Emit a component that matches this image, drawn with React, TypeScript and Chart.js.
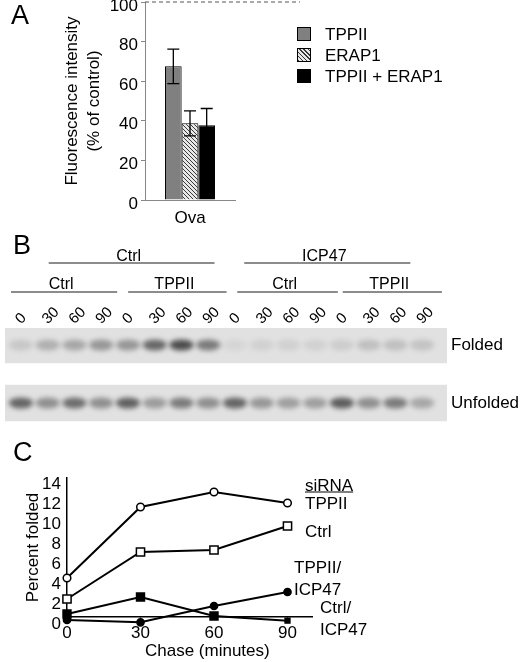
import { useEffect, useRef } from 'react';
import { Chart, registerables } from 'chart.js';

Chart.register(...registerables);

const FONT = "'Liberation Sans', Arial, Helvetica, sans-serif";
Chart.defaults.font.family = FONT;
Chart.defaults.color = '#000';

// ---- A: fluorescence (% of control)
const knockdowns = ['TPPII', 'ERAP1', 'TPPII + ERAP1'];
const antigens = ['Ova'];
const intensity = [67.5, 38.7, 37.8];
const intensityErr = [8.7, 6.3, 8.4];
const controlLevel = 100;

// ---- B: gel
const gelLaneRange = [0.406, 16.93];
const laneTimes = ['0', '30', '60', '90', '0', '30', '60', '90', '0', '30', '60', '90', '0', '30', '60', '90'];
const gelRows = ['Folded', 'Unfolded'];
const foldedBands = [0.15, 0.3, 0.35, 0.45, 0.45, 0.74, 0.9, 0.62, 0.07, 0.1, 0.1, 0.09, 0.12, 0.2, 0.2, 0.18];
const unfoldedBands = [0.75, 0.5, 0.7, 0.5, 0.78, 0.42, 0.62, 0.5, 0.75, 0.45, 0.4, 0.4, 0.8, 0.5, 0.62, 0.35];
const icpLabels = ['Ctrl', 'ICP47'];
const icpSpans = [[2.04, 8.24], [9.35, 15.56]];
const sirnaLabels = ['Ctrl', 'TPPII', 'Ctrl', 'TPPII'];
const sirnaSpans = [[0.63, 4.6], [5.01, 8.69], [9.09, 12.85], [13.03, 16.74]];

// ---- C: percent folded over chase
const chaseMinutes = [0, 30, 60, 90];
const foldedTicks = [0, 2, 4, 6, 8, 10, 12, 14];
const seriesNames = ['TPPII', 'Ctrl', 'TPPII/ICP47', 'Ctrl/ICP47'];
const foldedTPPII = [4.6, 11.7, 13.2, 12.1];
const foldedCtrl = [2.5, 7.2, 7.4, 9.8];
const foldedTPPIIICP47 = [0.4, 0.17, 1.8, 3.2];
const foldedCtrlICP47 = [1.0, 2.7, 0.8, 0.33];

function hatch() {
  const c = document.createElement('canvas');
  c.width = 4;
  c.height = 4;
  const g = c.getContext('2d')!;
  g.fillStyle = '#e8e8e8';
  g.fillRect(0, 0, 4, 4);
  g.strokeStyle = '#3a3a3a';
  g.lineWidth = 1;
  g.beginPath();
  g.moveTo(0, 0); g.lineTo(4, 4);
  g.moveTo(-2, 2); g.lineTo(2, 6);
  g.moveTo(2, -2); g.lineTo(6, 2);
  g.stroke();
  return g.createPattern(c, 'repeat');
}

function band(v: number) {
  const c = document.createElement('canvas');
  c.width = 48;
  c.height = 30;
  const g = c.getContext('2d')!;
  g.filter = 'blur(2.5px)';
  g.fillStyle = `rgba(30,30,30,${v * 0.85})`;
  g.beginPath();
  g.ellipse(24, 15, 12, 5.5, 0, 0, Math.PI * 2);
  g.fill();
  return c;
}

const errorBars = {
  id: 'errorBars',
  afterDatasetsDraw(chart: any) {
    const { ctx } = chart;
    const y = chart.scales.y;
    ctx.save();
    ctx.strokeStyle = '#000';
    ctx.lineWidth = 1.3;
    chart.data.datasets.forEach((ds: any, i: number) => {
      chart.getDatasetMeta(i).data.forEach((bar: any, j: number) => {
        const top = y.getPixelForValue(ds.data[j] + intensityErr[i]);
        const bot = y.getPixelForValue(ds.data[j] - intensityErr[i]);
        ctx.beginPath();
        ctx.moveTo(bar.x, top); ctx.lineTo(bar.x, bot);
        ctx.moveTo(bar.x - 6, top); ctx.lineTo(bar.x + 6, top);
        ctx.moveTo(bar.x - 6, bot); ctx.lineTo(bar.x + 6, bot);
        ctx.stroke();
      });
    });
    ctx.restore();
  },
};

const controlLine = {
  id: 'controlLine',
  afterDraw(chart: any) {
    const { ctx, chartArea } = chart;
    const y = chart.scales.y.getPixelForValue(controlLevel);
    ctx.save();
    ctx.strokeStyle = '#555';
    ctx.lineWidth = 1;
    ctx.setLineDash([4, 3]);
    ctx.beginPath();
    ctx.moveTo(chartArea.left, y);
    ctx.lineTo(chart.width, y);
    ctx.stroke();
    ctx.restore();
  },
};

const groupLines = {
  id: 'groupLines',
  afterDraw(chart: any) {
    const { ctx } = chart;
    const x = chart.scales.x;
    ctx.save();
    ctx.strokeStyle = '#666';
    ctx.lineWidth = 1.5;
    ctx.fillStyle = '#000';
    ctx.font = `16px ${FONT}`;
    ctx.textAlign = 'center';
    ctx.textBaseline = 'middle';
    const rows: [string[], number[][], number, number][] = [
      [icpLabels, icpSpans, 17, 23],
      [sirnaLabels, sirnaSpans, 45, 52],
    ];
    rows.forEach(([labels, spans, ty, ly]) => {
      spans.forEach(([a, b], i) => {
        const x1 = x.getPixelForValue(a);
        const x2 = x.getPixelForValue(b);
        ctx.beginPath();
        ctx.moveTo(x1, ly);
        ctx.lineTo(x2, ly);
        ctx.stroke();
        ctx.fillText(labels[i], (x1 + x2) / 2 - 3, ty);
      });
    });
    ctx.restore();
  },
};

function ChartBox({ left, top, width, height, make }: any) {
  const ref = useRef<HTMLCanvasElement>(null);
  useEffect(() => {
    if (!ref.current) return;
    const chart = new Chart(ref.current, make());
    return () => chart.destroy();
  }, []);
  return (
    <div style={{ position: 'absolute', left, top, width, height }}>
      <canvas ref={ref}></canvas>
    </div>
  );
}

function Txt({ x, y, size = 17, children, style }: any) {
  return (
    <div
      style={{
        position: 'absolute', left: x, top: y, transform: 'translateY(-50%)',
        fontSize: size, lineHeight: 1, whiteSpace: 'nowrap', fontFamily: FONT, color: '#000', ...style,
      }}
    >
      {children}
    </div>
  );
}

function makeA(): any {
  const fills = ['#808080', hatch(), '#000'];
  return {
    type: 'bar',
    data: {
      labels: antigens,
      datasets: knockdowns.map((k, i) => ({
        label: k,
        data: [intensity[i]],
        backgroundColor: fills[i],
        borderColor: '#000',
        borderWidth: 1,
        categoryPercentage: 0.556,
        barPercentage: 1,
      })),
    },
    options: {
      animation: false,
      responsive: true,
      maintainAspectRatio: false,
      layout: { padding: { left: 0, right: 65, top: 12, bottom: 0 } },
      plugins: { legend: { display: false }, tooltip: { enabled: false } },
      scales: {
        x: {
          grid: { display: false, drawTicks: false, tickLength: 0 },
          border: { color: '#888', width: 1 },
          ticks: { font: { size: 17 }, padding: 8 },
          afterFit: (a: any) => { a.height = 30; a.paddingLeft = 0; a.paddingRight = 0; },
        },
        y: {
          min: 0, max: 100,
          ticks: { stepSize: 20, font: { size: 17 }, padding: 3, labelOffset: 4 },
          grid: { drawOnChartArea: false, tickLength: 4, color: '#888' },
          border: { color: '#888', width: 1 },
          title: {
            display: true,
            text: ['Fluorescence intensity', '(% of control)'],
            font: { size: 17, lineHeight: 1.3 },
            padding: { top: 61, bottom: 0 },
          },
          afterFit: (a: any) => { a.width = 145; a.paddingTop = 0; a.paddingBottom = 0; },
        },
      },
    },
    plugins: [controlLine, errorBars],
  };
}

function makeB(): any {
  return {
    type: 'bar',
    data: {
      datasets: [
        {
          type: 'bar',
          data: gelRows.map((_, r) => ({ y: 1 - r, x: [gelLaneRange[0], gelLaneRange[1]] })),
          backgroundColor: '#e1e1e1',
          borderWidth: 0,
          barPercentage: 0.63,
          categoryPercentage: 1,
          order: 2,
        },
        {
          type: 'scatter',
          data: foldedBands.map((_, i) => ({ x: i + 1, y: 1 })),
          pointStyle: foldedBands.map(band),
          order: 1,
        },
        {
          type: 'scatter',
          data: unfoldedBands.map((_, i) => ({ x: i + 1, y: 0 })),
          pointStyle: unfoldedBands.map(band),
          order: 1,
        },
      ],
    },
    options: {
      indexAxis: 'y',
      animation: false,
      responsive: true,
      maintainAspectRatio: false,
      layout: { padding: { left: 2, right: 0, top: 48, bottom: 17 } },
      plugins: { legend: { display: false }, tooltip: { enabled: false } },
      scales: {
        x: {
          type: 'linear',
          position: 'top',
          min: gelLaneRange[0],
          max: gelLaneRange[1],
          grid: { display: false, drawTicks: false, tickLength: 0 },
          border: { display: false },
          afterBuildTicks: (a: any) => { a.ticks = laneTimes.map((_, i) => ({ value: i + 1 })); },
          ticks: {
            callback: (_v: any, i: number) => laneTimes[i],
            minRotation: 45,
            maxRotation: 45,
            autoSkip: false,
            font: { size: 15 },
            padding: 0,
            labelOffset: 10,
          },
          afterFit: (a: any) => { a.height = 40; a.paddingLeft = 0; a.paddingRight = 0; },
        },
        y: {
          type: 'linear',
          position: 'right',
          offset: false,
          min: -0.345,
          max: 1.293,
          grid: { display: false, drawTicks: false, tickLength: 0 },
          border: { display: false },
          afterBuildTicks: (a: any) => { a.ticks = gelRows.map((_, r) => ({ value: 1 - r })); },
          ticks: {
            callback: (v: any) => gelRows[1 - Number(v)],
            font: { size: 17 },
            padding: 4,
          },
          afterFit: (a: any) => { a.width = 73; a.paddingTop = 0; a.paddingBottom = 0; },
        },
      },
    },
    plugins: [groupLines],
  };
}

function makeC(): any {
  const series = [foldedTPPII, foldedCtrl, foldedTPPIIICP47, foldedCtrlICP47];
  const styles = [
    { pointStyle: 'circle', pointRadius: 3.8, pointBackgroundColor: '#fff' },
    { pointStyle: 'rect', pointRadius: 5.8, pointBackgroundColor: '#fff' },
    { pointStyle: 'circle', pointRadius: 3.6, pointBackgroundColor: '#000' },
    { pointStyle: 'rect', pointRadius: [5.6, 5.6, 5.6, 3.4], pointBackgroundColor: '#000' },
  ];
  return {
    type: 'line',
    data: {
      datasets: series.map((s, i) => ({
        label: seriesNames[i],
        data: chaseMinutes.map((t, j) => ({ x: t, y: s[j] })),
        borderColor: '#000',
        borderWidth: 2,
        pointBorderColor: '#000',
        pointBorderWidth: 1.5,
        tension: 0,
        clip: false,
        ...styles[i],
      })),
    },
    options: {
      animation: false,
      responsive: true,
      maintainAspectRatio: false,
      layout: { padding: { left: 0, right: 208, top: 18, bottom: 0 } },
      plugins: { legend: { display: false }, tooltip: { enabled: false } },
      scales: {
        x: {
          type: 'linear',
          min: 0,
          max: 100,
          afterBuildTicks: (a: any) => { a.ticks = chaseMinutes.map((v) => ({ value: v })); },
          grid: { drawOnChartArea: false, tickLength: 3, color: '#000' },
          border: { color: '#000', width: 1.5 },
          ticks: { font: { size: 17 }, padding: 3, autoSkip: false },
          afterFit: (a: any) => { a.height = 45; a.paddingLeft = 0; a.paddingRight = 0; },
        },
        y: {
          min: 0.7,
          max: 14.6,
          afterBuildTicks: (a: any) => { a.ticks = foldedTicks.map((v) => ({ value: v })); },
          ticks: { font: { size: 17 }, padding: 6, autoSkip: false },
          grid: { display: false, drawTicks: false, tickLength: 0 },
          border: { color: '#000', width: 1.5 },
          title: {
            display: true,
            text: 'Percent folded',
            font: { size: 17 },
            padding: { top: 23, bottom: 0 },
          },
          afterFit: (a: any) => { a.width = 67; a.paddingTop = 0; a.paddingBottom = 0; },
        },
      },
    },
  };
}

export default function App() {
  const swatches = [
    { background: '#808080' },
    { background: 'repeating-linear-gradient(45deg, #3a3a3a 0 1px, #e8e8e8 1px 3px)' },
    { background: '#000' },
  ];
  const seriesPos = [
    { x: 305, y: 503, lines: [seriesNames[0]] },
    { x: 305, y: 531, lines: [seriesNames[1]] },
    { x: 294, y: 567, lines: ['TPPII/', 'ICP47'] },
    { x: 320, y: 607, lines: ['Ctrl/', 'ICP47'] },
  ];
  return (
    <div style={{ position: 'fixed', left: 0, top: 0, width: 520, height: 662, background: '#fff', overflow: 'hidden', fontFamily: FONT }}>
      <ChartBox left={0} top={-10} width={300} height={240} make={makeA} />
      <ChartBox left={0} top={240} width={520} height={200} make={makeB} />
      <ChartBox left={0} top={460} width={520} height={202} make={makeC} />

      <Txt x={11} y={15} size={27}>A</Txt>
      <Txt x={13} y={245} size={27}>B</Txt>
      <Txt x={13} y={452} size={27}>C</Txt>

      {knockdowns.map((k, i) => (
        <div key={k}>
          <div style={{ position: 'absolute', left: 297, top: 27 + i * 21, width: 12, height: 12, border: '1px solid #000', ...swatches[i] }} />
          <Txt x={325} y={33.5 + i * 21}>{k}</Txt>
        </div>
      ))}

      <Txt x={305} y={485} style={{ textDecoration: 'underline' }}>siRNA</Txt>
      {seriesPos.map((p, i) =>
        p.lines.map((l, j) => (
          <Txt key={`${i}-${j}`} x={p.x} y={p.y + j * 22}>{l}</Txt>
        ))
      )}
      <Txt x={145} y={650}>Chase (minutes)</Txt>
    </div>
  );
}
